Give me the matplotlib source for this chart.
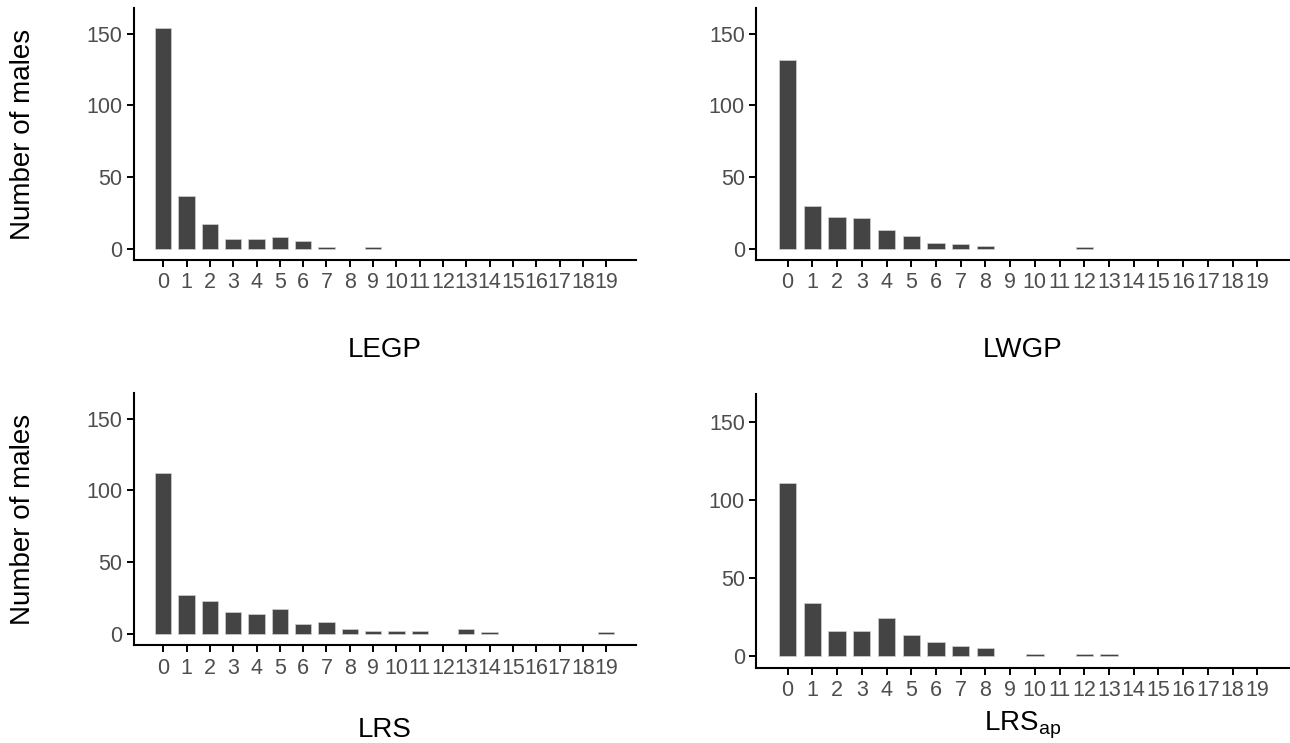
import numpy as np
import matplotlib
matplotlib.use('Agg')
import matplotlib.pyplot as plt

plt.rcParams['font.family'] = ['Liberation Sans', 'DejaVu Sans']
plt.rcParams['mathtext.fontset'] = 'custom'
plt.rcParams['mathtext.rm'] = 'Liberation Sans'

# Counts of males per category value (0..19)
categories = list(range(20))
legp_counts = [154, 37, 17, 7, 7, 8, 5, 1, 0, 1, 0, 0, 0, 0, 0, 0, 0, 0, 0, 0]
lwgp_counts = [132, 30, 22, 21, 13, 9, 4, 3, 2, 0, 0, 0, 1, 0, 0, 0, 0, 0, 0, 0]
lrs_counts = [112, 27, 23, 15, 14, 17, 7, 8, 3, 2, 2, 2, 0, 3, 1, 0, 0, 0, 0, 1]
lrsap_counts = [111, 34, 16, 16, 24, 13, 9, 6, 5, 0, 1, 0, 1, 1, 0, 0, 0, 0, 0, 0]
panel_titles = ['LEGP', 'LWGP', 'LRS', r'LRS$_{\mathrm{ap}}$']
y_ticks = [0, 50, 100, 150]
ylabel = 'Number of males'

W, H = 1290, 743
fig = plt.figure(figsize=(W / 100, H / 100), dpi=100)

# axes boxes in pixels: left, right, top, bottom
boxes = [(133.5, 636, 8, 260), (756, 1289, 8, 260),
         (133.5, 636, 393, 645), (756, 1289, 394, 668)]
xlab_base = [357, 357, 737, 730]
all_counts = [legp_counts, lwgp_counts, lrs_counts, lrsap_counts]

fs_ticks = 15.5
fs_labels = 20
bar_color = '#444444'

for i, (counts, title) in enumerate(zip(all_counts, panel_titles)):
  l, r, t, b = boxes[i]
  ax = fig.add_axes([l / W, 1 - b / H, (r - l) / W, (b - t) / H])
  cats = np.array(categories)
  vals = np.array(counts)
  keep = vals > 0
  ax.bar(cats[keep], vals[keep], width=0.7, color=bar_color,
         edgecolor='#d0d0d0', linewidth=0.5)
  ax.set_xlim(-1.28, 20.28)
  ax.set_ylim(-8, 168)
  ax.set_xticks(categories)
  ax.set_xticklabels([str(c) for c in categories])
  ax.set_yticks(y_ticks)
  ax.tick_params(axis='both', labelsize=fs_ticks, labelcolor='#4d4d4d',
                 length=5, width=1.4, color='black')
  ax.tick_params(axis='x', pad=4)
  ax.tick_params(axis='y', pad=3)
  for side in ['top', 'right']:
    ax.spines[side].set_visible(False)
  for side in ['left', 'bottom']:
    ax.spines[side].set_linewidth(1.5)
  fig.text(((l + r) / 2) / W, 1 - xlab_base[i] / H, title,
           fontsize=fs_labels, ha='center', va='baseline')
  if i % 2 == 0:
    fig.text(23 / W, 1 - ((t + b) / 2) / H, ylabel, rotation=90,
             fontsize=fs_labels, ha='center', va='center')

fig.savefig('out.png', dpi=100, facecolor='white')
